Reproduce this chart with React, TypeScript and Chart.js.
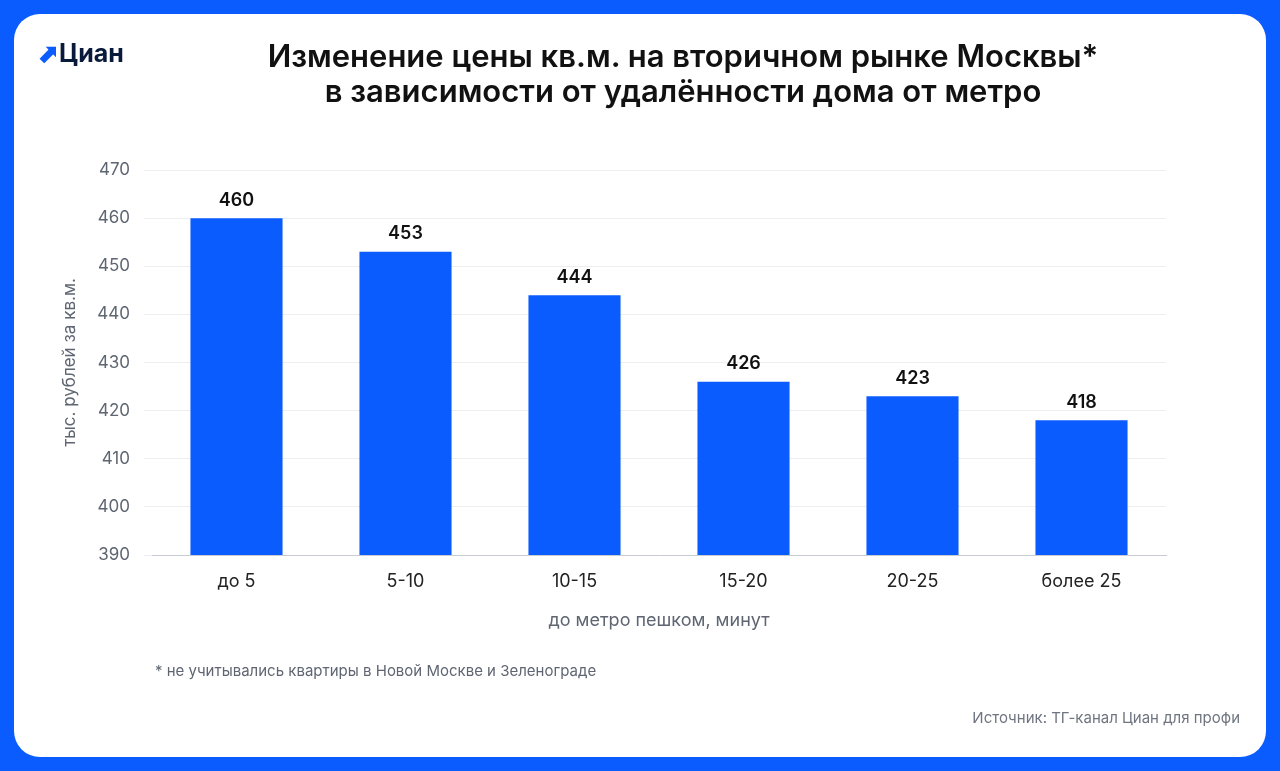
import React, { useEffect, useRef } from "react";
import { Chart, registerables } from "chart.js";
Chart.register(...registerables);

const categories = ["до 5", "5-10", "10-15", "15-20", "20-25", "более 25"];
const prices = [460, 453, 444, 426, 423, 418];
const BLUE = "#0B5CFF";

export default function App() {
  const ref = useRef<HTMLCanvasElement>(null);
  useEffect(() => {
    document.body.style.margin = "0";
    const labelPlugin = {
      id: "vals",
      afterDatasetsDraw(chart: any) {
        const ctx = chart.ctx;
        const meta = chart.getDatasetMeta(0);
        ctx.save();
        ctx.font = "600 18px Inter";
        ctx.fillStyle = "#111";
        ctx.textAlign = "center";
        ctx.textBaseline = "bottom";
        meta.data.forEach((b: any, i: number) => ctx.fillText(String(prices[i]), b.x, b.y - 9));
        ctx.restore();
      },
    };
    const c = new Chart(ref.current!, {
      type: "bar",
      data: { labels: categories, datasets: [{ data: prices, backgroundColor: BLUE, categoryPercentage: 0.545, barPercentage: 1 }] },
      options: {
        animation: false, responsive: false, maintainAspectRatio: false,
        layout: { padding: { left: 56, right: 114, top: 170, bottom: 0 } },
        plugins: { legend: { display: false }, tooltip: { enabled: false } },
        scales: {
          x: {
            grid: { display: false }, border: { color: "#c8ccd2" },
            ticks: { color: "#222", font: { family: "Inter", size: 18 }, padding: 8 },
            afterFit: (s: any) => { s.height = 216; },
          },
          y: {
            min: 390, max: 470,
            ticks: { stepSize: 10, color: "#5f6672", font: { family: "Inter", size: 17 }, padding: 14 },
            grid: { color: "#eceef1" }, border: { display: false },
            title: { display: true, text: "тыс. рублей за кв.м.", color: "#5f6672", font: { family: "Inter", size: 17 } },
            afterFit: (s: any) => { s.width = 96; },
          },
        },
      },
      plugins: [labelPlugin],
    });
    return () => c.destroy();
  }, []);
  return (
    <div style={{ position: "relative", width: 1280, height: 771, background: BLUE, fontFamily: "Inter" }}>
      <div style={{ position: "absolute", left: 14, top: 14, width: 1252, height: 743, background: "#fff", borderRadius: 26 }} />
      <canvas ref={ref} width={1280} height={771} style={{ position: "absolute", left: 0, top: 0 }} />
      <div style={{ position: "absolute", left: 38, top: 38, fontSize: 25, fontWeight: 700, color: "#0a1a3a" }}>
        <span style={{ color: BLUE }}>⬈</span>Циан
      </div>
      <div style={{ position: "absolute", left: 130, width: 1106, top: 38, textAlign: "center", fontSize: 31, fontWeight: 600, lineHeight: "35px", color: "#111" }}>
        Изменение цены кв.м. на вторичном рынке Москвы*<br />в зависимости от удалённости дома от метро
      </div>
      <div style={{ position: "absolute", left: 152, width: 1014, top: 609, textAlign: "center", fontSize: 18, color: "#5f6672" }}>до метро пешком, минут</div>
      <div style={{ position: "absolute", left: 155, top: 661, fontSize: 15, color: "#5f6672" }}>* не учитывались квартиры в Новой Москве и Зеленограде</div>
      <div style={{ position: "absolute", right: 40, top: 708, fontSize: 15, color: "#6f7580" }}>Источник: ТГ-канал Циан для профи</div>
    </div>
  );
}
